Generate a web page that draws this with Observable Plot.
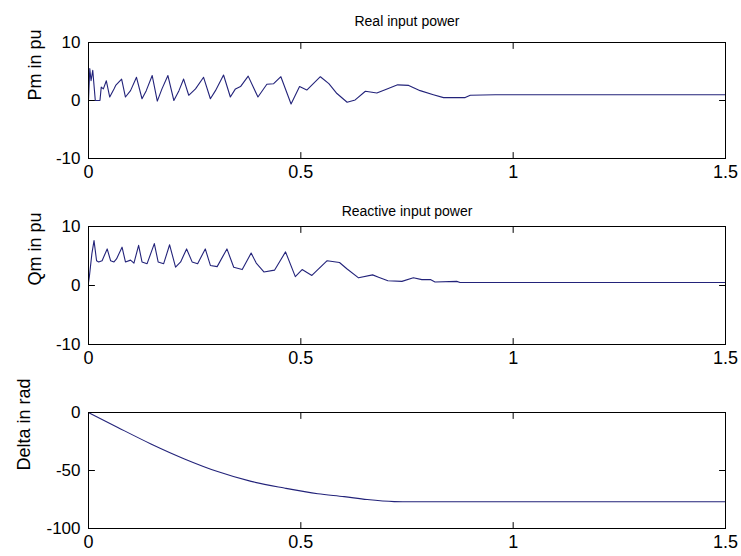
<!DOCTYPE html>
<html>
<head>
<meta charset="utf-8">
<script src="https://cdn.jsdelivr.net/npm/d3@7"></script>
<script src="https://cdn.jsdelivr.net/npm/@observablehq/plot@0.6"></script>
<style>
  html, body { margin: 0; padding: 0; background: #fff; }
  #chart { width: 741px; height: 556px; }
  #chart svg { display: block; }
</style>
</head>
<body>
<div id="chart"></div>
<script>
// ---- Data ----
const xTicks = [0, 0.5, 1, 1.5];

const pmTicks = [-10, 0, 10];
const pmT = [0, 0.003, 0.006, 0.010, 0.016, 0.027, 0.030, 0.035, 0.042, 0.050, 0.060, 0.064, 0.078, 0.087, 0.099, 0.113, 0.126, 0.136, 0.150, 0.162, 0.173, 0.187, 0.201, 0.213, 0.224, 0.236, 0.252, 0.271, 0.287, 0.299, 0.318, 0.334, 0.346, 0.358, 0.376, 0.399, 0.420, 0.436, 0.453, 0.477, 0.497, 0.514, 0.546, 0.566, 0.585, 0.609, 0.628, 0.652, 0.679, 0.703, 0.728, 0.754, 0.781, 0.812, 0.836, 0.887, 0.899, 0.958, 1.5];
const pmV = [0, 5.5, 3.4, 5.2, 0, 0, 2.3, 2.0, 3.4, 0.6, 2.0, 2.6, 3.7, 0.6, 1.7, 4.0, 0.3, 1.7, 4.3, -0.1, 2.0, 4.3, 0, 1.7, 3.7, 0.9, 2.0, 4.0, 0.3, 1.7, 4.4, 0.6, 2.0, 2.4, 4.2, 0.6, 2.8, 2.9, 4.1, -0.6, 2.4, 1.8, 4.1, 2.9, 1.2, -0.3, 0.1, 1.6, 1.3, 2.0, 2.7, 2.6, 1.7, 1.0, 0.5, 0.5, 0.9, 1.0, 1.0];

const qmTicks = [-10, 0, 10];
const qmT = [0, 0.002, 0.008, 0.013, 0.019, 0.024, 0.032, 0.044, 0.052, 0.060, 0.066, 0.079, 0.087, 0.099, 0.107, 0.118, 0.126, 0.138, 0.155, 0.164, 0.177, 0.191, 0.205, 0.217, 0.231, 0.244, 0.257, 0.275, 0.287, 0.303, 0.326, 0.342, 0.362, 0.383, 0.395, 0.413, 0.438, 0.464, 0.487, 0.503, 0.526, 0.562, 0.591, 0.609, 0.636, 0.669, 0.683, 0.705, 0.738, 0.765, 0.785, 0.805, 0.816, 0.867, 0.875, 1.5];
const qmV = [0.5, 1.5, 5.4, 7.6, 4.2, 4.0, 4.2, 6.2, 4.2, 4.0, 4.5, 6.5, 4.0, 4.3, 3.8, 6.8, 4.0, 3.7, 7.1, 4.0, 3.7, 6.9, 3.1, 4.0, 6.2, 4.0, 3.7, 6.2, 3.4, 3.2, 6.2, 3.1, 2.7, 5.5, 3.8, 2.3, 2.6, 5.7, 1.5, 2.7, 1.7, 4.2, 3.9, 2.8, 1.3, 1.8, 1.4, 0.8, 0.7, 1.3, 1.0, 1.0, 0.6, 0.7, 0.5, 0.5];

const deltaTicks = [-100, -50, 0];
const deltaT = [0, 0.069, 0.147, 0.226, 0.304, 0.383, 0.461, 0.540, 0.602, 0.656, 0.720, 0.760, 1.5];
const deltaV = [0, -12.9, -27.1, -40, -50.9, -59.4, -65.1, -70, -72.5, -75, -76.8, -77, -77];

const titles = ["Real input power", "Reactive input power", ""];
const yLabels = ["Pm in pu", "Qm in pu", "Delta in rad"];

// ---- Drawing ----
const lineColor = "#23237a";
const font = "'Liberation Sans', Arial, Helvetica, sans-serif";
const tickShape = { draw(ctx, l) { ctx.moveTo(0, 0); ctx.lineTo(0, -l); } };

function panel({t, v, yTicks, yDomain, title, ylabel, height, marginTop, marginBottom, labelDx, titleDy, curve}) {
  const data = t.map((d, i) => ({t: d, v: v[i]}));
  const [y0, y1] = yDomain;
  const [x0, x1] = [xTicks[0], xTicks[xTicks.length - 1]];
  const tickOpts = {length: 6, shape: tickShape, anchor: "start", stroke: "black", strokeWidth: 1};
  const marks = [
    Plot.line(data, {x: "t", y: "v", stroke: lineColor, strokeWidth: 1.1, curve: curve || "linear"}),
    Plot.frame({stroke: "black", strokeWidth: 1}),
    // inward tick marks on all four sides (MATLAB box style)
    Plot.vector(xTicks, {x: d => d, y: y0, rotate: 0, ...tickOpts}),
    Plot.vector(xTicks, {x: d => d, y: y1, rotate: 180, ...tickOpts}),
    Plot.vector(yTicks, {y: d => d, x: x0, rotate: 90, ...tickOpts}),
    Plot.vector(yTicks, {y: d => d, x: x1, rotate: -90, ...tickOpts}),
    Plot.axisX({ticks: xTicks, tickSize: 0, tickPadding: 7, tickFormat: d => String(d), fontSize: 18, label: null}),
    Plot.axisY({ticks: yTicks, tickSize: 0, tickPadding: 8, tickFormat: d => String(d), fontSize: 17, label: null}),
    Plot.text([ylabel], {frameAnchor: "left", dx: labelDx, rotate: -90, fontSize: 18, fill: "black"})
  ];
  if (title) marks.push(Plot.text([title], {frameAnchor: "top", dy: titleDy, fontSize: 14, fill: "black"}));
  return Plot.plot({
    width: 741,
    height,
    marginLeft: 88,
    marginRight: 16,
    marginTop,
    marginBottom,
    style: {fontFamily: font, background: "white", color: "black", overflow: "visible"},
    x: {domain: [x0, x1]},
    y: {domain: yDomain},
    marks
  });
}

const chart = document.getElementById("chart");
chart.append(panel({t: pmT, v: pmV, yTicks: pmTicks, yDomain: [-10, 10], title: titles[0], ylabel: yLabels[0], height: 190, marginTop: 42, marginBottom: 32, labelDx: -53, titleDy: -26}));
chart.append(panel({t: qmT, v: qmV, yTicks: qmTicks, yDomain: [-10, 10], title: titles[1], ylabel: yLabels[1], height: 185, marginTop: 36, marginBottom: 31, labelDx: -53, titleDy: -20}));
chart.append(panel({t: deltaT, v: deltaV, yTicks: deltaTicks, yDomain: [-100, 0], title: titles[2], ylabel: yLabels[2], height: 181, marginTop: 37, marginBottom: 28, labelDx: -64, titleDy: -20, curve: "monotone-x"}));
</script>
</body>
</html>
